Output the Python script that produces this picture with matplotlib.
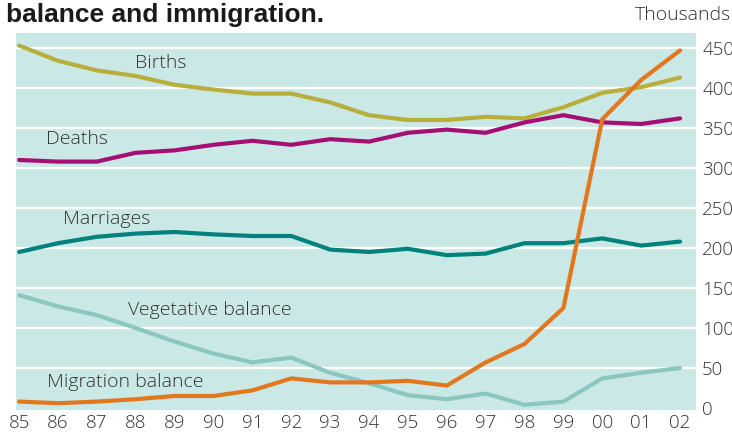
import numpy as np
import matplotlib
matplotlib.use("Agg")
import matplotlib.pyplot as plt

plt.rcParams['font.family'] = ['Open Sans', 'DejaVu Sans']
plt.rcParams['font.weight'] = 'light'

years = ["85", "86", "87", "88", "89", "90", "91", "92", "93",
         "94", "95", "96", "97", "98", "99", "00", "01", "02"]

births = [453, 434, 422, 415, 404, 398, 393, 393, 382,
          366, 360, 360, 364, 362, 376, 394, 401, 413]
deaths = [310, 308, 308, 319, 322, 329, 334, 329, 336,
          333, 344, 348, 344, 357, 366, 357, 355, 362]
marriages = [195, 206, 214, 218, 220, 217, 215, 215, 198,
             195, 199, 191, 193, 206, 206, 212, 203, 208]
vegetative = [141, 127, 116, 100, 83, 68, 57, 63, 44,
              31, 16, 11, 18, 4, 8, 37, 44, 50]
migration = [8, 6, 8, 11, 15, 15, 22, 37, 32,
             32, 34, 28, 57, 80, 125, 361, 410, 447]

series = [
    ("Births", births, "#b8ae3c", (2.98, 431)),
    ("Deaths", deaths, "#a50f73", (0.69, 336)),
    ("Marriages", marriages, "#00827c", (1.13, 236)),
    ("Vegetative balance", vegetative, "#8bc7c0", (2.8, 122)),
    ("Migration balance", migration, "#e2781e", (0.72, 32)),
]

fig = plt.figure(figsize=(7.32, 4.44), dpi=100)
ax = fig.add_axes([0.0219, 0.0766, 0.9289, 0.8491])
ax.set_facecolor("#cae8e5")

x = np.arange(len(years))
for name, vals, color, (tx, ty) in series:
    ax.plot(x, vals, color=color, lw=3.0, solid_capstyle="round",
            solid_joinstyle="round", zorder=3)
    ax.text(tx, ty, name, fontsize=14, color="#333333", va="center",
            ha="left", zorder=4)

ax.set_xlim(-0.08, 17.41)
ax.set_ylim(-2.5, 468.75)
ax.set_yticks(range(0, 451, 50))
ax.set_xticks(x)
ax.set_xticklabels(years)
for v in range(50, 451, 50):
    ax.axhline(v, color="white", lw=1.6, zorder=1)

ax.yaxis.tick_right()
ax.tick_params(axis="both", length=0, labelsize=13.5, labelcolor="#333333")
ax.tick_params(axis="y", pad=4.5)
ax.tick_params(axis="x", pad=3)
for lbl in ax.get_yticklabels():
    lbl.set_horizontalalignment("left")
for s in ax.spines.values():
    s.set_visible(False)

fig.text(0.008, 1 - 22 / 444, "balance and immigration.", fontsize=19,
         fontweight="bold", family="Liberation Sans", color="#1a1a1a",
         ha="left", va="baseline")
fig.text(0.999, 1 - 15 / 444, "Thousands", fontsize=14, color="#333333",
         ha="right", va="center")

fig.savefig("out.png", dpi=100)
